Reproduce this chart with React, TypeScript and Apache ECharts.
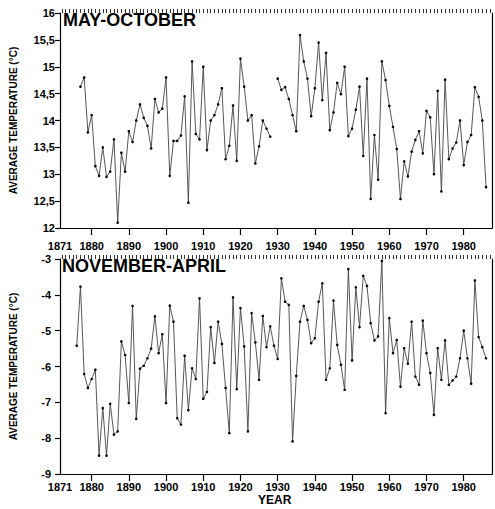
import React, { useEffect, useRef } from "react";
import * as echarts from "echarts";

// ---- data ----
const TOP_START_A = 1877; // May-October, first run 1877-1928
const topValuesA = [
  14.63, 14.8, 13.78, 14.1, 13.15, 12.97, 13.5, 12.95, 13.05, 13.65,
  12.1, 13.4, 13.05, 13.8, 13.6, 14.0, 14.3, 14.05, 13.9, 13.48,
  14.4, 14.15, 14.22, 14.8, 12.97, 13.62, 13.62, 13.72, 14.45, 12.47,
  15.1, 13.75, 13.65, 15.0, 13.45, 14.0, 14.1, 14.3, 14.6, 13.28,
  13.53, 14.28, 13.25, 15.15, 14.63, 14.0, 14.1, 13.2, 13.52, 14.0,
  13.85, 13.7,
];
const TOP_START_B = 1930; // May-October, second run 1930-1986
const topValuesB = [
  14.78, 14.57, 14.62, 14.4, 14.1, 13.8, 15.59, 15.1, 14.78, 14.08,
  14.6, 15.45, 14.38, 15.26, 13.82, 14.15, 14.7, 14.49, 15.0, 13.71,
  13.85, 14.2, 14.63, 13.34, 14.78, 12.54, 13.73, 12.9, 15.1, 14.75,
  14.27, 13.88, 13.47, 12.54, 13.24, 12.96, 13.42, 13.64, 13.8, 13.39,
  14.18, 14.06, 13.0, 14.55, 12.68, 14.76, 13.28, 13.48, 13.59, 14.0,
  13.17, 13.6, 13.73, 14.62, 14.44, 14.0, 12.76,
];
const BOTTOM_START = 1876; // November-April, 1876-1986
const bottomValues = [
  -5.42, -3.77, -6.21, -6.6, -6.35, -6.09, -8.49, -7.16, -8.49, -7.04,
  -7.9, -7.81, -5.3, -5.68, -7.02, -4.31, -7.46, -6.06, -5.98, -5.77,
  -5.5, -4.6, -5.63, -5.1, -7.02, -4.3, -4.75, -7.44, -7.62, -5.7,
  -7.22, -6.05, -6.35, -4.1, -6.9, -6.71, -4.9, -5.9, -4.75, -5.37,
  -6.6, -7.86, -4.07, -6.63, -4.37, -5.44, -7.81, -4.51, -5.33, -6.37,
  -4.59, -5.46, -4.88, -5.42, -5.79, -3.54, -4.19, -4.28, -8.09, -6.26,
  -4.75, -4.31, -4.7, -5.35, -5.21, -4.19, -3.68, -6.37, -6.05, -4.16,
  -5.4, -5.95, -6.65, -3.28, -5.83, -3.79, -4.9, -3.47, -3.75, -4.79,
  -5.27, -5.16, -3.05, -7.3, -4.65, -5.63, -5.26, -6.56, -5.49, -5.92,
  -4.75, -6.28, -6.51, -4.72, -5.63, -6.18, -7.35, -5.49, -6.37, -5.27,
  -6.51, -6.39, -6.28, -5.77, -5.0, -5.77, -6.48, -3.6, -5.18, -5.46,
  -5.77,
];
const xLabelValues = [1871.5, 1880, 1890, 1900, 1910, 1920, 1930, 1940, 1950, 1960, 1970, 1980];
const xFirstLabel = "1871";
const titles = ["MAY-OCTOBER", "NOVEMBER-APRIL"];
const yName = "AVERAGE TEMPERATURE (°C)";
const xName = "YEAR";

const X_MIN = 1871.5;
const X_MAX = 1987.6;
const FONT = "'Liberation Sans', Arial, Helvetica, sans-serif";

function toPairs(start: number, vals: (number | null)[]) {
  return vals.map((v, i) => [start + i, v]);
}

export default function App() {
  const ref = useRef<HTMLDivElement>(null);
  useEffect(() => {
    if (!ref.current) return;
    const chart = echarts.init(ref.current, null, { renderer: "svg" });

    const yearTicks: number[] = [];
    for (let y = Math.ceil(X_MIN); y <= Math.floor(X_MAX); y++) yearTicks.push(y);
    const decadeTicks = xLabelValues.filter((v) => v % 10 === 0);

    const topData = [
      ...toPairs(TOP_START_A, topValuesA),
      [TOP_START_A + topValuesA.length, null],
      ...toPairs(TOP_START_B, topValuesB),
    ];
    const bottomData = toPairs(BOTTOM_START, bottomValues);

    const axisLineStyle = { color: "#000", width: 1.2 };
    const labelStyle = { fontSize: 11, fontWeight: "bold" as const, color: "#000", fontFamily: FONT };

    const mainX = (gridIndex: number, margin: number) => ({
      type: "value",
      gridIndex,
      min: X_MIN,
      max: X_MAX,
      axisLine: { show: true, onZero: false, lineStyle: axisLineStyle },
      axisTick: { show: true, customValues: decadeTicks, length: 7, lineStyle: { color: "#000", width: 1.2 } },
      axisLabel: {
        ...labelStyle,
        margin,
        customValues: xLabelValues,
        formatter: (v: number) => (v === X_MIN ? xFirstLabel : String(v)),
      },
      splitLine: { show: false },
    });
    const minorX = (gridIndex: number) => ({
      type: "value",
      gridIndex,
      min: X_MIN,
      max: X_MAX,
      axisLine: { show: false, onZero: false },
      axisTick: { show: true, customValues: yearTicks, length: 4, lineStyle: { color: "#000", width: 0.8 } },
      axisLabel: { show: false },
      splitLine: { show: false },
    });
    const leftY = (gridIndex: number, min: number, max: number, interval: number, margin: number, fmt: (v: number) => string) => ({
      type: "value",
      gridIndex,
      min,
      max,
      interval,
      name: yName,
      nameLocation: "middle",
      nameGap: 42,
      nameTextStyle: { fontSize: 10, fontWeight: "bold", color: "#000", fontFamily: FONT },
      axisLine: { show: true, onZero: false, lineStyle: axisLineStyle },
      axisTick: { show: true, length: 5, lineStyle: { color: "#000", width: 1.2 } },
      axisLabel: { ...labelStyle, margin, formatter: fmt },
      splitLine: { show: false },
    });
    const rightY = (gridIndex: number, min: number, max: number) => ({
      type: "value",
      gridIndex,
      position: "right",
      min,
      max,
      axisLine: { show: true, onZero: false, lineStyle: axisLineStyle },
      axisTick: { show: false },
      axisLabel: { show: false },
      splitLine: { show: false },
    });

    const lineSeries = (xi: number, yi: number, data: any[]) => ({
      type: "line",
      xAxisIndex: xi,
      yAxisIndex: yi,
      data,
      connectNulls: false,
      symbol: "circle",
      symbolSize: 2.6,
      showSymbol: true,
      silent: true,
      lineStyle: { color: "#444", width: 0.9 },
      itemStyle: { color: "#000" },
    });

    chart.setOption({
      animation: false,
      backgroundColor: "#fff",
      grid: [
        { left: 60, right: 3, top: 13, height: 215 },
        { left: 60, right: 3, top: 259, height: 215 },
      ],
      xAxis: [mainX(0, 12), minorX(0), mainX(1, 7), minorX(1)],
      yAxis: [
        leftY(0, 12, 16, 0.5, 5, (v: number) => String(v).replace(".", ",")),
        rightY(0, 12, 16),
        leftY(1, -9, -3, 1, 9, (v: number) => String(v)),
        rightY(1, -9, -3),
      ],
      series: [lineSeries(0, 0, topData), lineSeries(2, 2, bottomData)],
      graphic: [
        {
          type: "text",
          left: 63,
          top: 11,
          style: { text: titles[0], fontSize: 18, fontWeight: "bold", fill: "#000", fontFamily: FONT },
        },
        {
          type: "text",
          left: 62,
          top: 257,
          style: { text: titles[1], fontSize: 18, fontWeight: "bold", fill: "#000", fontFamily: FONT },
        },
        {
          type: "text",
          left: 258,
          top: 494,
          style: { text: xName, fontSize: 12, fontWeight: "bold", fill: "#000", fontFamily: FONT },
        },
      ],
    });
    return () => chart.dispose();
  }, []);
  return (
    <div
      ref={ref}
      style={{ position: "absolute", left: 0, top: 0, width: 495, height: 509, background: "#fff" }}
    />
  );
}
